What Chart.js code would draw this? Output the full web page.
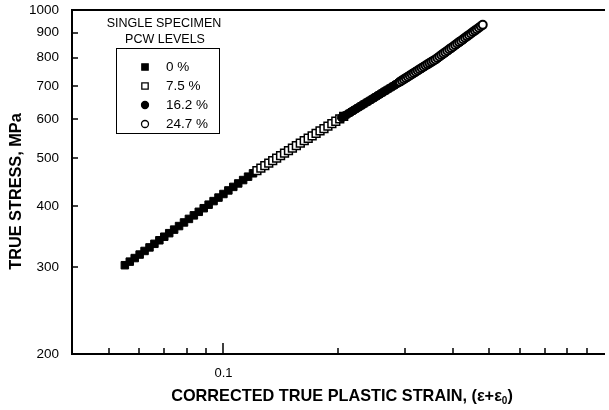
<!DOCTYPE html>
<html><head><meta charset="utf-8">
<script src="https://cdn.jsdelivr.net/npm/chart.js@4"></script>
<style>html,body{margin:0;padding:0;overflow:hidden;background:#fff}canvas{display:block}</style>
</head><body>
<canvas id="c" width="609" height="410"></canvas>
<script>
// ---- data ----
const seriesLabels = ['0 %', '7.5 %', '16.2 %', '24.7 %'];
const strain0 = [0.05507,0.05674,0.05846,0.06023,0.06205,0.06393,0.06586,0.06786,0.06991,0.07203,0.07421,0.07645,0.07877,0.08115,0.08361,0.08614,0.08875,0.09143,0.0942,0.09705,0.09999,0.10302,0.10614,0.10935,0.11266,0.11607,0.11959];
const stress0 = [303.0,308.1,313.3,318.5,323.9,329.3,334.9,340.5,346.2,352.0,357.9,363.9,370.1,376.3,382.6,389.0,395.6,402.2,409.0,415.8,422.8,429.9,437.1,444.2,451.3,458.5,465.8];
const strain75 = [0.12245,0.12541,0.12844,0.13154,0.13472,0.13797,0.14130,0.14471,0.14821,0.15179,0.15546,0.15921,0.16306,0.16700,0.17103,0.17516,0.17939,0.18372,0.18816,0.19270,0.19736,0.20213,0.20701];
const stress75 = [471.8,477.4,483.0,488.7,494.5,500.3,506.2,512.1,518.1,524.2,530.4,536.5,542.6,548.8,555.1,561.4,567.8,574.3,580.8,587.5,594.2,600.9,607.8];
const strain162 = [0.20462,0.20832,0.21208,0.21591,0.21981,0.22378,0.22782,0.23193,0.23612,0.24038,0.24472,0.24914,0.25364,0.25822,0.26288,0.26763,0.27246,0.27738,0.28239,0.28749,0.29268,0.29796,0.30334,0.30882,0.31440,0.32008,0.32586,0.33174,0.33773,0.34383,0.35004,0.35636,0.36279,0.36934,0.37601,0.38280,0.38971,0.39675,0.40391,0.41120,0.41863,0.42619];
const stress162 = [604.4,609.6,614.8,620.0,625.3,630.7,636.1,641.5,647.0,652.5,658.1,663.7,669.4,675.1,680.9,686.7,692.6,698.5,704.5,710.6,716.8,723.1,729.4,735.8,742.3,748.8,755.4,762.0,768.7,775.4,782.2,789.1,795.1,803.2,811.3,819.5,827.8,836.2,844.7,853.3,861.9,870.6];
const strain247 = [0.29094,0.29443,0.29796,0.30154,0.30516,0.30882,0.31253,0.31628,0.32007,0.32391,0.32780,0.33173,0.33571,0.33974,0.34382,0.34795,0.35212,0.35635,0.36062,0.36495,0.36933,0.37376,0.37825,0.38279,0.38738,0.39203,0.39673,0.40149,0.40631,0.41119,0.41612,0.42112,0.42617,0.43128,0.43646,0.44170,0.44700,0.45236,0.45779,0.46328,0.46884,0.47447,0.48016];
const stress247 = [714.8,719.0,723.2,727.4,731.6,735.9,740.2,744.5,748.9,753.2,757.6,762.1,766.5,771.0,775.5,780.0,784.6,789.1,793.7,799.1,804.5,809.9,815.4,820.9,826.4,832.0,837.6,843.3,849.0,854.7,860.5,866.3,872.1,878.0,884.0,889.9,895.9,902.0,908.1,914.2,920.4,926.6,932.8];

const yTicks = [200,300,400,500,600,700,800,900,1000];
const xLabelTicks = [0.1];
const xMajorTicks = [0.1];
const xMinorTicks = [0.05,0.06,0.07,0.08,0.09,0.2,0.3,0.4,0.5,0.6,0.7,0.8,0.9];
const xTitleMain = 'CORRECTED TRUE PLASTIC STRAIN, (\u03b5+\u03b5';
const xTitleSub = '0';
const xTitleEnd = ')';
const yTitle = 'TRUE STRESS, MPa';
const legendTitle = ['SINGLE SPECIMEN', 'PCW LEVELS'];

const FONT = '"Liberation Sans", Arial, sans-serif';
Chart.defaults.font.family = FONT;
Chart.defaults.color = '#000';

const toPts = (xs, ys) => xs.map((x, i) => ({x: x, y: ys[i]}));

const frameAndTicks = {
  id: 'frameAndTicks',
  afterDraw(chart) {
    const ctx = chart.ctx, a = chart.chartArea;
    const xs = chart.scales.x, ys = chart.scales.y;
    ctx.save();
    ctx.strokeStyle = '#000';
    ctx.fillStyle = '#000';
    // inward ticks
    ctx.lineWidth = 1.5;
    ctx.beginPath();
    yTicks.forEach(v => { const p = Math.round(ys.getPixelForValue(v)); ctx.moveTo(a.left, p); ctx.lineTo(a.left + 6, p); });
    xMinorTicks.forEach(v => { const p = Math.round(xs.getPixelForValue(v)); ctx.moveTo(p, a.bottom); ctx.lineTo(p, a.bottom - 6); });
    xMajorTicks.forEach(v => { const p = Math.round(xs.getPixelForValue(v)); ctx.moveTo(p, a.bottom); ctx.lineTo(p, a.bottom - 11); });
    ctx.stroke();
    // y tick labels
    ctx.font = '13.5px ' + FONT;
    ctx.textAlign = 'right';
    ctx.textBaseline = 'middle';
    yTicks.forEach(v => ctx.fillText(String(v), a.left - 13, ys.getPixelForValue(v)));
    // frame (right edge lies just outside the picture)
    ctx.lineWidth = 2;
    ctx.beginPath();
    ctx.moveTo(a.right + 3, a.top); ctx.lineTo(a.left, a.top); ctx.lineTo(a.left, a.bottom); ctx.lineTo(a.right + 3, a.bottom);
    ctx.stroke();
    // axis titles
    const big = 'bold 16.3px ' + FONT, small = 'bold 10px ' + FONT;
    ctx.font = big;
    const w1 = ctx.measureText(xTitleMain).width, w3 = ctx.measureText(xTitleEnd).width;
    ctx.font = small;
    const w2 = ctx.measureText(xTitleSub).width;
    let x0 = 342 - (w1 + w2 + w3) / 2;
    const ty = 397;
    ctx.textAlign = 'left';
    ctx.font = big; ctx.fillText(xTitleMain, x0, ty);
    ctx.font = small; ctx.fillText(xTitleSub, x0 + w1, ty + 4);
    ctx.font = big; ctx.fillText(xTitleEnd, x0 + w1 + w2, ty);
    ctx.save();
    ctx.translate(16.5, 191.5);
    ctx.rotate(-Math.PI / 2);
    ctx.textAlign = 'center';
    ctx.font = big;
    ctx.fillText(yTitle, 0, 0);
    ctx.restore();
    // legend
    ctx.textAlign = 'center';
    ctx.font = '12.5px ' + FONT;
    ctx.fillText(legendTitle[0], 164, 24);
    ctx.fillText(legendTitle[1], 165, 40);
    ctx.lineWidth = 1;
    ctx.strokeRect(116.5, 48.5, 103, 85);
    ctx.textAlign = 'left';
    ctx.font = '13.5px ' + FONT;
    chart.data.datasets.forEach((ds, i) => {
      const yy = 67 + 19 * i;
      ctx.fillStyle = ds.backgroundColor;
      ctx.strokeStyle = ds.borderColor;
      ctx.lineWidth = 1.3;
      Chart.helpers.drawPoint(ctx, {pointStyle: ds.pointStyle, radius: ds.pointStyle === 'rect' ? 4.5 : 3.5, borderWidth: 1.3, rotation: 0}, 145, yy);
      ctx.fillStyle = '#000';
      ctx.fillText(ds.label, 166, yy);
    });
    ctx.restore();
  }
};

new Chart(document.getElementById('c'), {
  type: 'scatter',
  data: {
    datasets: [
      {label: seriesLabels[0], data: toPts(strain0, stress0), pointStyle: 'rect', pointRadius: 5.3, backgroundColor: '#000', borderColor: '#000', borderWidth: 1, order: 4},
      {label: seriesLabels[1], data: toPts(strain75, stress75), pointStyle: 'rect', pointRadius: 5.5, backgroundColor: '#fff', borderColor: '#000', borderWidth: 1.5, order: 3},
      {label: seriesLabels[2], data: toPts(strain162, stress162), pointStyle: 'circle', pointRadius: 4.3, backgroundColor: '#000', borderColor: '#000', borderWidth: 1, order: 2},
      {label: seriesLabels[3], data: toPts(strain247, stress247), pointStyle: 'circle', pointRadius: 4, backgroundColor: '#fff', borderColor: '#000', borderWidth: 2, order: 1}
    ]
  },
  options: {
    responsive: false,
    animation: false,
    devicePixelRatio: 1,
    layout: {padding: {top: 10, left: 0, right: 0, bottom: 0}},
    plugins: {legend: {display: false}, tooltip: {enabled: false}},
    scales: {
      x: {
        type: 'logarithmic', min: 0.04, max: 0.988,
        grid: {display: false, drawTicks: false},
        border: {display: false},
        afterBuildTicks: s => { s.ticks = xLabelTicks.map(v => ({value: v})); },
        afterFit: s => { s.height = 56; },
        ticks: {autoSkip: false, maxRotation: 0, padding: 12, font: {size: 13}, color: '#000',
                callback: v => String(v)}
      },
      y: {
        type: 'logarithmic', min: 200, max: 1000,
        grid: {display: false, drawTicks: false},
        border: {display: false},
        afterBuildTicks: s => { s.ticks = yTicks.map(v => ({value: v})); },
        afterFit: s => { s.width = 72; },
        ticks: {display: false}
      }
    }
  },
  plugins: [frameAndTicks]
});
</script>
</body></html>
